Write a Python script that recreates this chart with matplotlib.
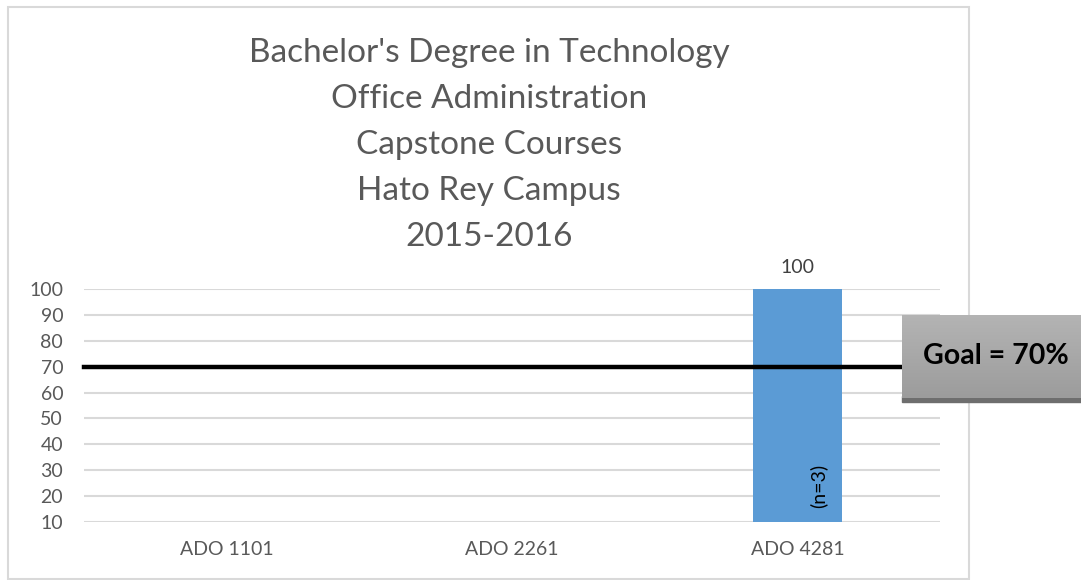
import numpy as np
import matplotlib.pyplot as plt
from matplotlib.patches import Rectangle
from matplotlib.colors import LinearSegmentedColormap

categories = ["ADO 1101", "ADO 2261", "ADO 4281"]
values = [np.nan, np.nan, 100]
bar_notes = ["", "", "(n=3)"]
goal = 70
title_lines = ["Bachelor's Degree in Technology", "Office Administration",
               "Capstone Courses", "Hato Rey Campus", "2015-2016"]

W, H = 1081, 580
plt.rcParams['font.family'] = ['Lato', 'DejaVu Sans']

fig = plt.figure(figsize=(W / 100, H / 100), dpi=100)

# outer chart frame
fig.patches.append(Rectangle((8 / W, 1 - 579 / H), 961 / W, 572 / H,
                             transform=fig.transFigure, fill=False,
                             edgecolor='#d9d9d9', linewidth=1.5))

ax = fig.add_axes([84 / W, 1 - 522 / H, 856 / W, 233 / H])
x = np.arange(len(categories))
ax.bar(x, values, width=0.31, bottom=0, color='#5b9bd5', zorder=2)
ax.set_ylim(10, 100)
ax.set_xlim(-0.5, len(categories) - 0.5)
ax.set_yticks(np.arange(10, 101, 10))
ax.set_xticks(x)
ax.set_xticklabels(categories)
ax.tick_params(length=0, colors='#595959', labelsize=14)
ax.tick_params(axis='x', pad=14)
ax.tick_params(axis='y', pad=15)
ax.grid(axis='y', color='#d9d9d9', linewidth=1.5, zorder=0)
for s in ax.spines.values():
    s.set_visible(False)

for i, v in enumerate(values):
    if not np.isnan(v):
        ax.text(i, v + 5, f"{v:g}", ha='center', va='bottom',
                fontsize=14, color='#404040')
    if bar_notes[i]:
        ax.text(i + 0.072, 24, bar_notes[i], rotation=90, ha='center',
                va='center', fontsize=14, color='black', zorder=3)

# goal line from the plot area out past the right edge
y_goal = ax.transData.transform((0, goal))[1] / fig.bbox.height
fig.add_artist(plt.Line2D([84 / W, 1], [y_goal, y_goal], color='black',
                          linewidth=3.2, transform=fig.transFigure, zorder=5))

# goal callout box with shadow and gradient
fig.patches.append(Rectangle((902 / W, 1 - 402 / H), 179 / W, 6 / H,
                             transform=fig.transFigure, color='#6e6e6e',
                             zorder=6))
bax = fig.add_axes([902 / W, 1 - 398 / H, 179 / W, 83 / H], zorder=7)
grad = np.linspace(0, 1, 100).reshape(-1, 1)
cmap = LinearSegmentedColormap.from_list('g', ['#b4b4b4', '#9c9c9c'])
bax.imshow(grad, aspect='auto', cmap=cmap, extent=[0, 1, 0, 1], origin='upper')
bax.set_axis_off()
bax.text(0.525, 0.5, f"Goal = {goal}%", ha='center', va='center',
         fontsize=20.5, fontweight='bold', color='black', transform=bax.transAxes)

# title
for k, line in enumerate(title_lines):
    fig.text(489 / W, 1 - (53 + 46 * k) / H, line, ha='center', va='center',
             fontsize=24, color='#595959')

fig.savefig('out.png', dpi=100)
